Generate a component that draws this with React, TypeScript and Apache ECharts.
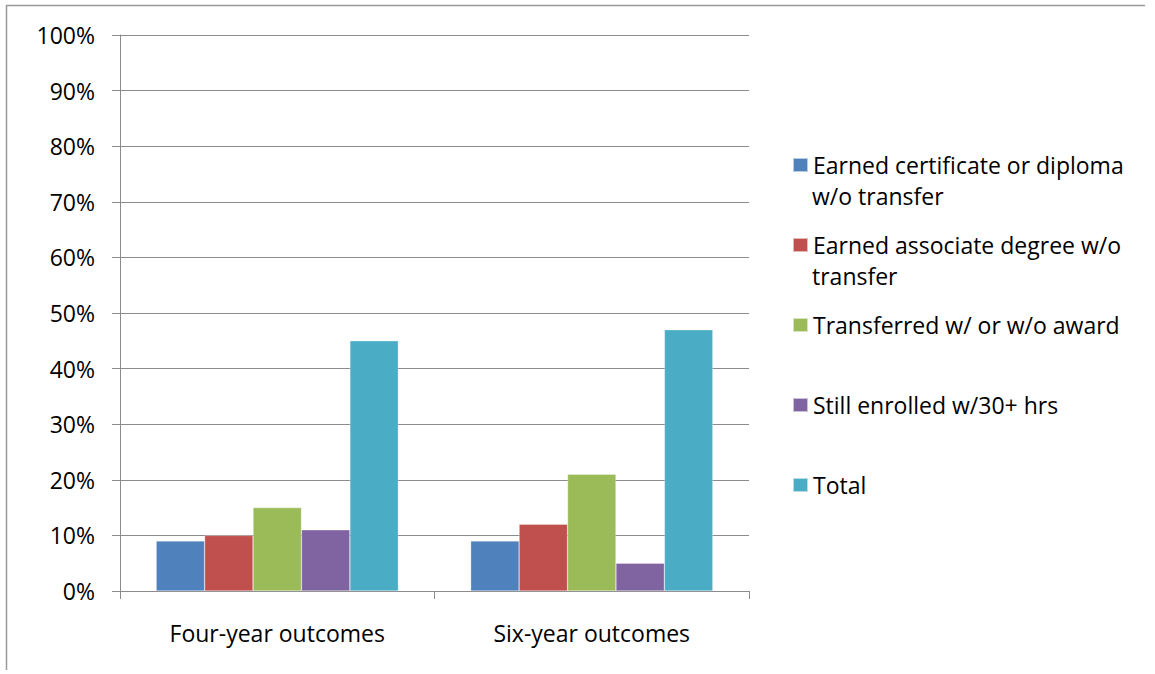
import React, { useEffect, useRef } from "react";
import * as echarts from "echarts";

const categories = ["Four-year outcomes", "Six-year outcomes"];
const seriesNames = [
  "Earned certificate or diploma w/o transfer",
  "Earned associate degree w/o transfer",
  "Transferred w/ or w/o award",
  "Still enrolled w/30+ hrs",
  "Total",
];
const legendFirstLines = [
  "Earned certificate or diploma",
  "Earned associate degree w/o",
  "Transferred w/ or w/o award",
  "Still enrolled w/30+ hrs",
  "Total",
];
const certificateValues = [9, 9];
const associateValues = [10, 12];
const transferredValues = [15, 21];
const stillEnrolledValues = [11, 5];
const totalValues = [45, 47];
const colors = ["#4F81BD", "#C0504D", "#9BBB59", "#8064A2", "#4BACC6"];

const FONT = "Open Sans";
const FS = 23;

export default function App() {
  const ref = useRef<HTMLDivElement>(null);
  useEffect(() => {
    if (!ref.current) return;
    const chart = echarts.init(ref.current, null, { renderer: "svg" });
    const values = [
      certificateValues,
      associateValues,
      transferredValues,
      stillEnrolledValues,
      totalValues,
    ];
    const gridColor = "#8c8c8c";
    chart.setOption({
      animation: false,
      color: colors,
      textStyle: { fontFamily: FONT, color: "#000" },
      grid: { left: 120, right: 406, top: 35, bottom: 83, containLabel: false },
      xAxis: {
        type: "category",
        data: categories,
        axisLine: { lineStyle: { color: gridColor, width: 1 } },
        axisTick: { show: true, length: 8, lineStyle: { color: gridColor } },
        axisLabel: { fontFamily: FONT, fontSize: FS, color: "#000", margin: 30 },
      },
      yAxis: {
        type: "value",
        min: 0,
        max: 100,
        interval: 10,
        axisLine: { show: true, lineStyle: { color: gridColor, width: 1 } },
        axisTick: { show: true, length: 8, lineStyle: { color: gridColor } },
        splitLine: { show: true, lineStyle: { color: gridColor, width: 1 } },
        axisLabel: {
          fontFamily: FONT,
          fontSize: FS,
          color: "#000",
          margin: 25,
          formatter: "{value}%",
        },
      },
      legend: {
        orient: "vertical",
        left: 792,
        top: 153,
        padding: 0,
        itemWidth: 15,
        itemHeight: 14,
        itemGap: 56,
        icon: "rect",
        data: seriesNames,
        formatter: (name: string) => legendFirstLines[seriesNames.indexOf(name)],
        textStyle: { fontFamily: FONT, fontSize: FS, color: "#000", lineHeight: 24 },
        selectedMode: false,
      },
      series: seriesNames.map((name, i) => ({
        name,
        type: "bar",
        data: values[i],
        barGap: "0%",
        barCategoryGap: "23%",
        itemStyle: { color: colors[i], borderColor: "rgba(255,255,255,0.6)", borderWidth: 0.5 },
      })),
      graphic: [
        {
          type: "line",
          shape: { x1: 6, y1: 5.5, x2: 1145, y2: 5.5 },
          style: { stroke: "#999", lineWidth: 1.5 },
        },
        {
          type: "line",
          shape: { x1: 6.5, y1: 5, x2: 6.5, y2: 670 },
          style: { stroke: "#999", lineWidth: 1.5 },
        },
        {
          type: "text",
          left: 812,
          top: 184,
          style: { text: "w/o transfer", font: `${FS}px ${FONT}`, fill: "#000" },
        },
        {
          type: "text",
          left: 812,
          top: 264,
          style: { text: "transfer", font: `${FS}px ${FONT}`, fill: "#000" },
        },
      ],
    });
    return () => chart.dispose();
  }, []);
  return (
    <div
      ref={ref}
      style={{ position: "absolute", left: 0, top: 0, width: 1155, height: 674, background: "#fff" }}
    />
  );
}
